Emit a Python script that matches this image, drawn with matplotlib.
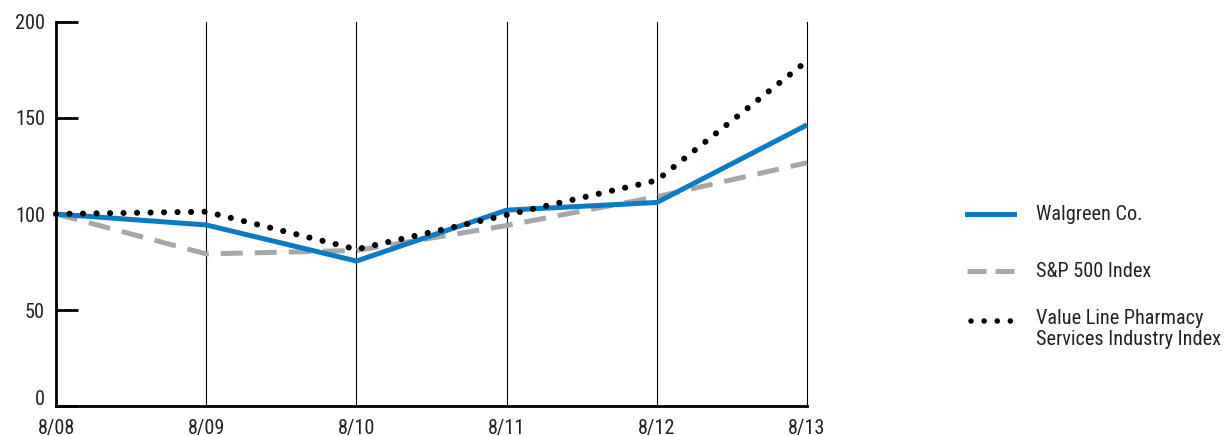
import matplotlib
matplotlib.use("Agg")
import matplotlib.pyplot as plt
import matplotlib.transforms as mtransforms
from matplotlib.lines import Line2D
from matplotlib import font_manager

names = {f.name for f in font_manager.fontManager.ttflist}
candidates = ["Roboto Condensed", "Archivo Narrow", "Liberation Sans Narrow", "Roboto"]
fam = next((c for c in candidates if c in names), "DejaVu Sans")
plt.rcParams['font.family'] = [fam, 'DejaVu Sans']

years = ["8/08", "8/09", "8/10", "8/11", "8/12", "8/13"]
walgreen = [100, 94.3, 75.5, 102, 106, 146.4]
sp500 = [100, 79.2, 81, 94, 109, 126.7]
value_line = [100, 101.2, 81.6, 99.5, 117.5, 179.7]

labels = ["Walgreen Co.", "S&P 500 Index", "Value Line Pharmacy\nServices Industry Index"]

blue = "#0a7bc4"
gray = "#a7a7a9"
txt = "#222222"
fs = 14.6

fig = plt.figure(figsize=(12.26, 4.36), dpi=100)
ax = fig.add_axes([56/1226, 30/436, (807-56)/1226, (406-22)/436])

x = list(range(len(years)))
ax.plot(x, sp500, color=gray, lw=3.6, linestyle=(0, (4.4, 2.4)), clip_on=False, zorder=3)
ax.plot(x, walgreen, color=blue, lw=3.6, clip_on=False, zorder=4,
        solid_capstyle='butt', solid_joinstyle='miter')
ax.plot(x, value_line, color="black", lw=4.4, linestyle=(0, (0.01, 2.2)),
        dash_capstyle='round', clip_on=False, zorder=5)

for xi in x[1:]:
    ax.axvline(xi, color="black", lw=0.8, zorder=1, clip_on=False)

ax.set_xlim(0, 5)
ax.set_ylim(0, 200)
ax.set_xticks(x)
ax.set_xticklabels(years)
ax.set_yticks([0, 50, 100, 150, 200])
ax.tick_params(axis='x', length=0, pad=9, labelsize=fs, colors=txt)
ax.tick_params(axis='y', direction='in', length=16, width=2, pad=8, labelsize=fs, colors="black")
for lab in ax.get_yticklabels():
    lab.set_color(txt)
# the "0" label sits a little above the axis line in the original
zero_lab = ax.get_yticklabels()[0]
zero_lab.set_transform(zero_lab.get_transform() +
                       mtransforms.ScaledTranslation(0, 6/72, fig.dpi_scale_trans))
ax.spines['top'].set_visible(False)
ax.spines['right'].set_visible(False)
ax.spines['left'].set_linewidth(2)
ax.spines['bottom'].set_linewidth(2)

# legend
lax = fig.add_axes([0, 0, 1, 1])
lax.set_xlim(0, 1226)
lax.set_ylim(436, 0)
lax.axis('off')
lax.add_line(Line2D([967, 1014], [214, 214], color=blue, lw=3.6))
lax.add_line(Line2D([967, 1014], [271, 271], color=gray, lw=3.6, linestyle=(0, (3.8, 1.8))))
lax.add_line(Line2D([971, 1012], [321, 321], color="black", lw=4.0, linestyle=(0, (0.01, 2.35)),
                    dash_capstyle='round'))
lax.text(1036, 214, labels[0], fontsize=fs, va='center', color=txt)
lax.text(1036, 271, labels[1], fontsize=fs, va='center', color=txt)
lax.text(1036, 309, labels[2], fontsize=fs, va='top', color=txt, linespacing=1.15)

fig.savefig("out.png", dpi=100)
